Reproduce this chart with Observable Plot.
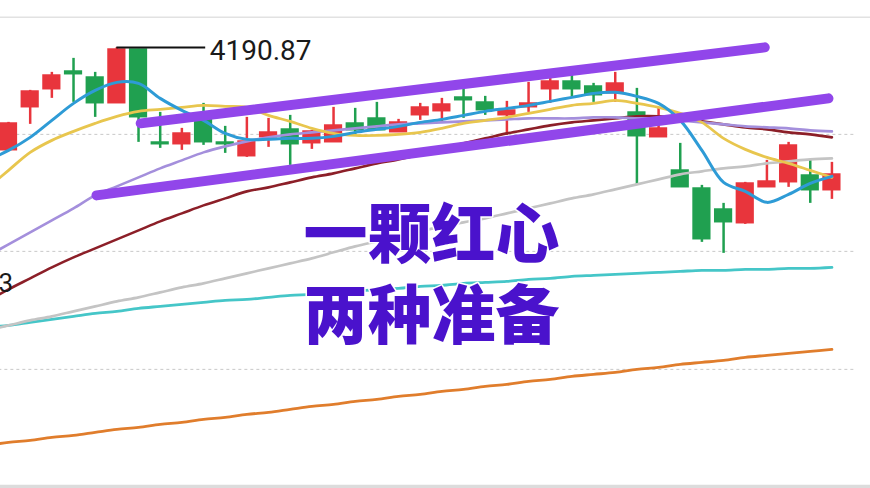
<!DOCTYPE html>
<html>
<head>
<meta charset="utf-8">
<script src="https://cdn.jsdelivr.net/npm/d3@7"></script>
<script src="https://cdn.jsdelivr.net/npm/@observablehq/plot@0.6"></script>
<style>
  html, body { margin: 0; padding: 0; background: #fff; }
  #chart svg { display: block; }
</style>
</head>
<body>
<div id="chart"></div>
<script>
// ---- candles (index 0..38) ----
const opens  = [4088,4131,4149,4167,4161,4135,4189,4096,4094,4119,4096,4082,4101,4109,4095,4096,4115,4120,4106,4123,4127,4141,4136,4123,4131,4149,4157,4152,4145,4126,4101,4068,4050,4029,4015,4051,4056,4063,4048];
const highs  = [4116,4148,4166,4180,4166,4190.87,4189,4126,4110,4135,4112,4121,4120,4123,4108,4131,4130,4136,4119,4135,4140,4157,4142,4137,4156,4162,4163,4155,4166,4150,4130,4095,4053,4035,4056,4078,4096,4078,4076];
const lows   = [4088,4114,4140,4136,4121,4135,4096,4090,4088,4093,4085,4081,4091,4073,4089,4096,4103,4108,4106,4118,4115,4120,4123,4103,4126,4135,4141,4136,4136,4053,4101,4051,3996,3985,4014,4051,4051,4035,4039];
const closes = [4115,4147,4163,4164,4135,4189,4121,4094,4105,4096,4094,4097,4106,4094,4107,4113,4108,4108,4116,4131,4134,4138,4128,4128,4135,4157,4149,4143,4155,4102,4110,4051,3999,4016,4055,4057,4093,4048,4064];

// ---- moving averages (index -1..38) ----
const ma5   = [4078,4088,4101,4118,4135,4148,4156,4155,4140,4128,4118,4105,4099,4099,4100,4100,4102,4106,4109,4112,4116,4119,4123,4127,4130,4133,4137,4141,4145,4146,4142,4135,4118,4088,4056,4047,4036,4044,4055,4062];
const ma10  = [4050,4068,4086,4098,4107,4115,4122,4127,4129,4131,4133,4132,4131,4123,4117,4110,4105,4103,4103,4104,4106,4110,4115,4118,4121,4125,4129,4133,4135,4138,4135,4131,4125,4116,4100,4089,4081,4075,4068,4061];
const ma20  = [3982,3994,4006,4018,4030,4043,4052,4061,4070,4078,4086,4092,4097,4101,4104,4106,4108,4110,4112,4114,4115,4116,4117,4118,4119,4120,4120,4120,4121,4121,4120,4120,4118,4116,4114,4112,4111,4110,4108,4107];
const ma30  = [3937,3949,3960,3971,3981,3990,3999,4008,4017,4025,4033,4040,4047,4051,4056,4061,4065,4070,4075,4079,4084,4090,4095,4100,4105,4109,4113,4116,4118,4120,4122,4122,4120,4117,4114,4111,4109,4106,4104,4101];
const ma60  = [3908,3913,3918,3922,3927,3932,3937,3941,3946,3951,3955,3960,3965,3970,3975,3980,3986,3992,3997,4002,4007,4012,4016,4020,4025,4030,4035,4040,4044,4049,4054,4059,4064,4067,4070,4072,4075,4077,4079,4080];
const ma120 = [3911,3913,3916,3919,3922,3925,3927,3930,3932,3934,3936,3938,3939,3941,3943,3944,3946,3947,3949,3950,3952,3953,3955,3956,3957,3959,3960,3962,3963,3964,3965,3966,3967,3968,3968,3969,3969,3970,3970,3971];
const ma250 = [3793,3796,3798,3801,3803,3806,3809,3811,3814,3816,3819,3821,3824,3826,3829,3832,3834,3837,3839,3842,3844,3847,3849,3852,3854,3857,3859,3862,3864,3866,3869,3871,3874,3876,3878,3881,3883,3885,3887,3889];

// ---- trend channel drawn on the chart (index, price) ----
const upperTrend = [[6.1, 4115], [34.9, 4191]];
const lowerTrend = [[4.06, 4043], [37.84, 4140]];

// ---- grid & labels ----
const gridDashed = [4104, 3987, 3869];
const topBorder = 4221;
const bottomBorder = 3751.5;
const highLabel = "4190.87";
const highValue = 4190.87;
const highIndex = 5;
const leftLabel = "3";
const leftLabelValue = 3955;
const titleLines = ["一颗红心", "两种准备"];

// ---- build tables ----
const candles = opens.map((o, i) => ({i, open: o, high: highs[i], low: lows[i], close: closes[i]}));
const maSeries = [
  {name: "ma250", vals: ma250, color: "#e07d2c", w: 2.8},
  {name: "ma120", vals: ma120, color: "#45c6c8", w: 2.8},
  {name: "ma60",  vals: ma60,  color: "#c4c4c4", w: 2.6},
  {name: "ma30",  vals: ma30,  color: "#8c1f28", w: 2.6},
  {name: "ma20",  vals: ma20,  color: "#a48fdc", w: 2.6},
  {name: "ma10",  vals: ma10,  color: "#e8c64e", w: 2.8},
  {name: "ma5",   vals: ma5,   color: "#2e9bd6", w: 3}
];
const up = d => d.close >= d.open;
const RED = "#e8353c", GREEN = "#20a050";
const fontCJK = "'Noto Sans CJK SC', sans-serif";
const fontNum = "Roboto, 'DejaVu Sans', sans-serif";

const marks = [
  Plot.ruleY([topBorder], {stroke: "#e2e2e2", strokeWidth: 1.5}),
  Plot.ruleY([bottomBorder], {stroke: "#dcdcdc", strokeWidth: 4}),
  Plot.ruleY(gridDashed, {x1: -1, x2: 39.1, stroke: "#c8c8c8", strokeWidth: 1, strokeDasharray: "3,3"}),
  Plot.ruleX(candles, {x: "i", y1: "low", y2: "high", stroke: d => up(d) ? RED : GREEN, strokeWidth: 2.5}),
  Plot.rect(candles, {
    x1: d => d.i - 0.42, x2: d => d.i + 0.42,
    y1: d => Math.min(d.open, d.close) - 0.6, y2: d => Math.max(d.open, d.close) + 0.6,
    fill: d => up(d) ? RED : GREEN
  }),
  ...maSeries.map(s => Plot.line(s.vals.map((v, k) => ({i: k - 1, v})), {
    x: "i", y: "v", stroke: s.color, strokeWidth: s.w, curve: "catmull-rom", clip: "frame"
  })),
  Plot.line(upperTrend, {x: d => d[0], y: d => d[1], stroke: "#9146ea", strokeWidth: 10, strokeLinecap: "round"}),
  Plot.line(lowerTrend, {x: d => d[0], y: d => d[1], stroke: "#9146ea", strokeWidth: 10, strokeLinecap: "round"}),
  Plot.ruleY([highValue], {x1: highIndex, x2: 9.1, stroke: "#111", strokeWidth: 2}),
  Plot.text([highLabel], {x: 9.1, y: highValue, text: d => d, textAnchor: "start", dx: 4, dy: 4,
    fontSize: 28, fill: "#1a1a1a", fontFamily: fontNum}),
  Plot.text([leftLabel], {x: -0.37, y: leftLabelValue, text: d => d, textAnchor: "start", dx: -2,
    fontSize: 26, fill: "#1a1a1a", fontFamily: fontNum}),
  Plot.text([titleLines.join("\n")], {frameAnchor: "top-left", dx: 431, dy: 271, text: d => d,
    textAnchor: "middle", lineAnchor: "middle", lineHeight: 1.26,
    fontSize: 64, fontWeight: 900, fill: "#4a12cc", stroke: "white", strokeWidth: 3, paintOrder: "stroke",
    fontFamily: fontCJK})
];

const chart = Plot.plot({
  width: 870,
  height: 488,
  margin: 0,
  style: {background: "#fff", overflow: "visible"},
  x: {domain: [-0.37, 39.78], axis: null},
  y: {domain: [3749.87, 4237.87], axis: null},
  marks
});
document.getElementById("chart").appendChild(chart);
</script>
</body>
</html>
